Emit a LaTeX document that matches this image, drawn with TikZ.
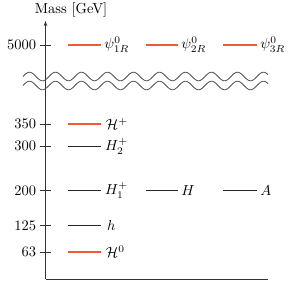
\documentclass[tikz,border=0pt]{standalone}
\usepackage{amsmath}
\usetikzlibrary{arrows.meta}
\definecolor{lvlorange}{HTML}{EE5A32}
\definecolor{axisgray}{HTML}{333333}
\tikzset{
  axisline/.style={draw=axisgray, line width=0.55pt},
  ticklbl/.style={anchor=east, inner sep=0pt},
  partlbl/.style={anchor=west, inner sep=0pt},
  heavy/.style={draw=lvlorange, line width=1.8pt},
  light/.style={draw=black!85, line width=0.6pt},
  wave/.style={draw=black!70, line width=0.55pt},
}
\begin{document}
\begin{tikzpicture}[x=0.69pt,y=-0.69pt]
\useasboundingbox (0,0) rectangle (291,283);
% axes
\coordinate (origin) at (45.5,279);
\coordinate (ytop) at (45.5,21);
\coordinate (xend) at (268,279);
\draw[axisline,-{Stealth[length=3.5pt,width=2.5pt]}] (origin) -- (ytop);
\draw[axisline] (origin) -- (xend);
\node[inner sep=0pt] (ylabel) at (71,9.5) {Mass [GeV]};
% break marks
\draw[wave] plot[domain=23:268, samples=240] (\x, {76.5 - 4.3*sin(13.846*(\x-23))});
\draw[wave] plot[domain=23:268, samples=240] (\x, {85.5 - 4.3*sin(13.846*(\x-23))});
% ticks
\foreach \yy/\lab in {45/5000, 124/350, 146/300, 190.5/200, 225.5/125, 252/63}{
  \draw[axisline] (39.5,\yy) -- (51,\yy);
  \node[ticklbl] at (36.5,\yy) {\lab};
}
% levels
\draw[heavy] (68,45) -- (101,45) node[partlbl, xshift=1.5pt] (psi1) {$\psi^0_{1R}$};
\draw[heavy] (146,45) -- (178,45) node[partlbl, xshift=1.5pt] (psi2) {$\psi^0_{2R}$};
\draw[heavy] (223,45) -- (257,45) node[partlbl, xshift=1.5pt] (psi3) {$\psi^0_{3R}$};
\draw[heavy] (68,124) -- (101,124) node[partlbl, xshift=2.5pt] (Hcp) {$\mathcal{H}^+$};
\draw[light] (68,146) -- (101,146) node[partlbl, xshift=2.5pt] (H2p) {$H_2^+$};
\draw[light] (68,190.5) -- (101,190.5) node[partlbl, xshift=2.5pt] (H1p) {$H_1^+$};
\draw[light] (146,190.5) -- (178,190.5) node[partlbl, xshift=2pt] (H) {$H$};
\draw[light] (223,190.5) -- (257,190.5) node[partlbl, xshift=2pt] (A) {$A$};
\draw[light] (68,225.5) -- (101,225.5) node[partlbl, xshift=4pt] (h) {$h$};
\draw[heavy] (68,252) -- (101,252) node[partlbl, xshift=2.5pt] (Hc0) {$\mathcal{H}^0$};
\end{tikzpicture}
\end{document}
